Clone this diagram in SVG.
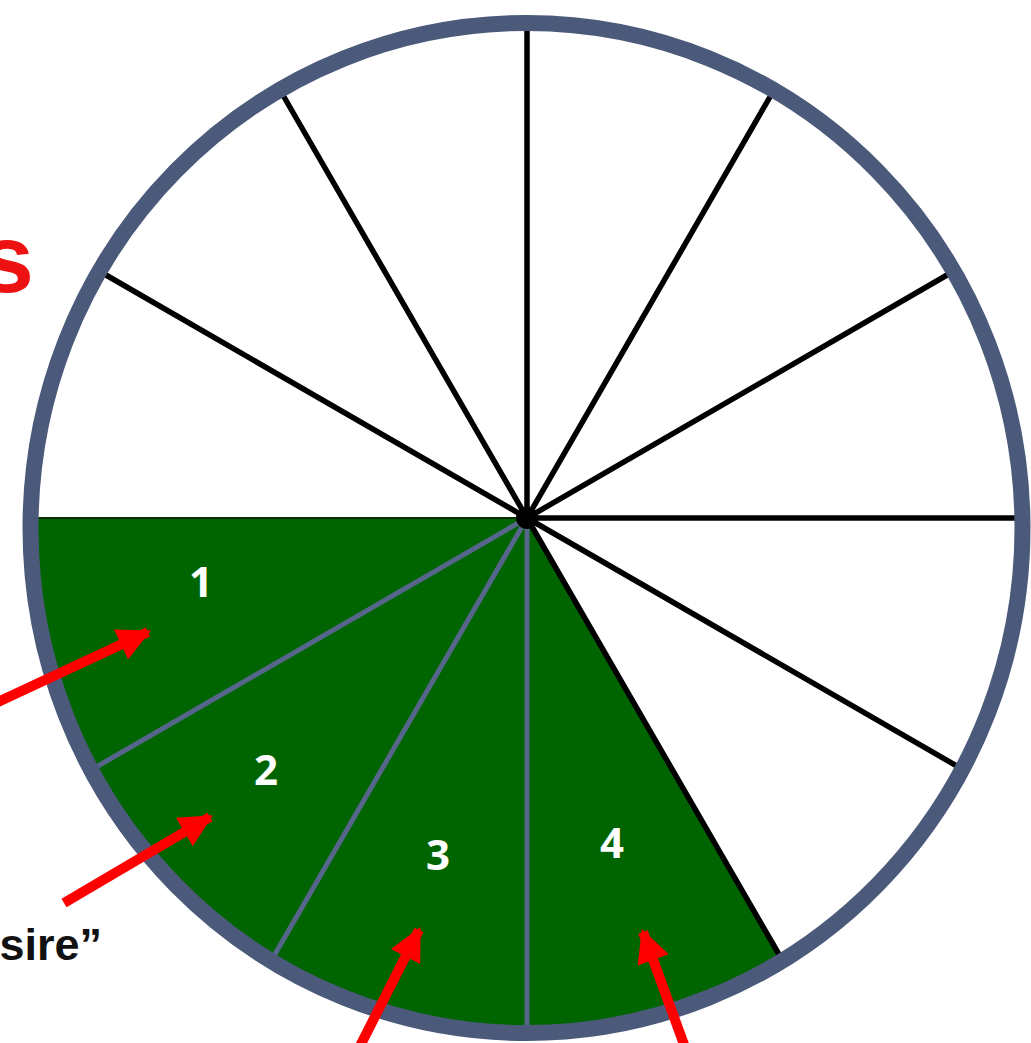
<svg xmlns="http://www.w3.org/2000/svg" width="1031" height="1043" viewBox="0 0 1031 1043">
<defs>
<style>
.spoke{stroke:#000;stroke-width:5.5;stroke-linecap:round}
.div{stroke:#56658a;stroke-width:5}
.num{font-family:"Open Sans","Liberation Sans",Arial,sans-serif;font-weight:bold;font-size:42px;fill:#fff;text-anchor:middle}
.arrow{stroke:#ff0000;stroke-width:10;fill:none}
</style>
<marker id="ah" viewBox="0 0 10 10" refX="9" refY="5" markerWidth="3.5" markerHeight="3.3" orient="auto" markerUnits="strokeWidth">
<path d="M0,0 L10,5 L0,10 Z" fill="#ff0000"/>
</marker>
</defs>
<rect width="1031" height="1043" fill="#fff"/>
<g id="sectors">
<path d="M527,518 L30.6,518 A496,505 0 0 0 782.5,960.5 Z" fill="#006400" stroke="#062b06" stroke-width="2"/>
</g>
<g id="spokes">
<line class="spoke" x1="527" y1="518" x2="1022" y2="518"/>
<line class="spoke" x1="527" y1="518" x2="962" y2="769"/>
<line class="spoke" x1="527" y1="518" x2="782.5" y2="960.5"/>
<line class="spoke" x1="527" y1="518" x2="954" y2="271"/>
<line class="spoke" x1="527" y1="518" x2="774" y2="90"/>
<line class="spoke" x1="527" y1="518" x2="527" y2="23"/>
<line class="spoke" x1="527" y1="518" x2="280" y2="90"/>
<line class="spoke" x1="527" y1="518" x2="99" y2="271"/>
<line class="div" x1="527" y1="518" x2="91" y2="770"/>
<line class="div" x1="527" y1="518" x2="271" y2="961"/>
<line class="div" x1="527" y1="518" x2="527" y2="1033"/>
<circle cx="527" cy="518" r="11" fill="#000"/>
</g>
<g id="rim">
<ellipse cx="526.5" cy="528" rx="496" ry="505" fill="none" stroke="#4b5a7a" stroke-width="16"/>
</g>
<g id="labels">
<text class="num" x="201" y="597">1</text>
<text class="num" x="266" y="785">2</text>
<text class="num" x="438" y="870">3</text>
<text class="num" x="612" y="858">4</text>
</g>
<g id="connectors">
<line class="arrow" x1="-2" y1="702" x2="148" y2="632" marker-end="url(#ah)"/>
<line class="arrow" x1="64" y1="903" x2="210" y2="817" marker-end="url(#ah)"/>
<line class="arrow" x1="358" y1="1050" x2="419" y2="930" marker-end="url(#ah)"/>
<line class="arrow" x1="686" y1="1050" x2="643" y2="932" marker-end="url(#ah)"/>
</g>
<g id="texts">
<text x="34" y="292" font-family="Liberation Sans,Arial,sans-serif" font-weight="bold" font-size="96" fill="#ee1111" text-anchor="end">s</text>
<text x="102" y="960" font-family="Liberation Sans,Arial,sans-serif" font-weight="bold" font-size="45" fill="#111" text-anchor="end">sire”</text>
</g>
</svg>
